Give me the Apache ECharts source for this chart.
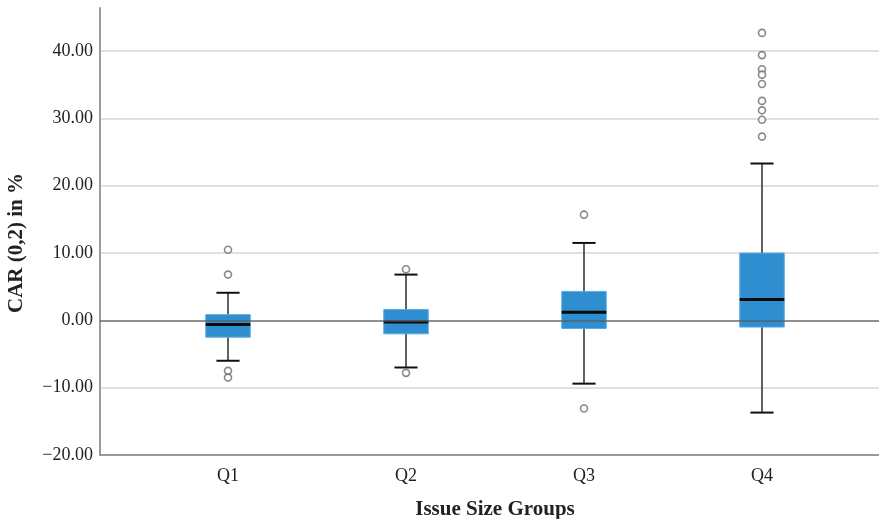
<!DOCTYPE html>
<html>
<head>
<meta charset="utf-8">
<script src="https://cdn.jsdelivr.net/npm/echarts@6/dist/echarts.min.js"></script>
<style>
  html, body { margin: 0; padding: 0; background: #fff; }
  #chart { width: 879px; height: 519px; }
</style>
</head>
<body>
<div id="chart"></div>
<script>
// Issue size quartile groups
const categories = ['Q1', 'Q2', 'Q3', 'Q4'];

// Box-and-whisker statistics of CAR (0,2) in %
const lowerWhisker = [-6.0, -7.0, -9.4, -13.7];
const lowerQuartile = [-2.5, -2.0, -1.2, -1.0];
const medians = [-0.6, -0.25, 1.2, 3.1];
const upperQuartile = [0.85, 1.6, 4.3, 10.0];
const upperWhisker = [4.1, 6.8, 11.5, 23.3];

// Outlying observations per group
const outliersQ1 = [10.5, 6.8, -7.5, -8.5];
const outliersQ2 = [7.6, -7.8];
const outliersQ3 = [15.7, -13.1];
const outliersQ4 = [42.7, 39.4, 37.3, 36.5, 35.1, 32.6, 31.2, 29.8, 27.3];

// Value axis range
const yMin = -20;
const yMax = 46.4;
const yStep = 10;

const outlierGroups = [outliersQ1, outliersQ2, outliersQ3, outliersQ4];
const boxRows = categories.map((c, i) => [i, lowerWhisker[i], lowerQuartile[i], medians[i], upperQuartile[i], upperWhisker[i]]);
const outlierPoints = [];
outlierGroups.forEach((g, i) => g.forEach(v => outlierPoints.push([i, v])));

const serif = 'Liberation Serif, Times New Roman, serif';
const fmt = v => (v < 0 ? '\u2212' + Math.abs(v).toFixed(2) : v.toFixed(2));

const chart = echarts.init(document.getElementById('chart'), null, { renderer: 'canvas' });

function renderBox(params, api) {
  const x = api.value(0);
  const band = api.size([1, 0])[0];
  const half = band * 0.125;
  const capHalf = half * 0.52;
  const pLow = api.coord([x, api.value(1)]);
  const pQ1 = api.coord([x, api.value(2)]);
  const pMed = api.coord([x, api.value(3)]);
  const pQ3 = api.coord([x, api.value(4)]);
  const pHigh = api.coord([x, api.value(5)]);
  const cx = pMed[0];
  return {
    type: 'group',
    children: [
      { type: 'line', shape: { x1: cx, y1: pHigh[1], x2: cx, y2: pLow[1] },
        style: { stroke: '#3a3a3a', lineWidth: 1.6 } },
      { type: 'line', shape: { x1: cx - capHalf, y1: pHigh[1], x2: cx + capHalf, y2: pHigh[1] },
        style: { stroke: '#111', lineWidth: 2 } },
      { type: 'line', shape: { x1: cx - capHalf, y1: pLow[1], x2: cx + capHalf, y2: pLow[1] },
        style: { stroke: '#111', lineWidth: 2 } },
      { type: 'rect', shape: { x: cx - half, y: pQ3[1], width: half * 2, height: pQ1[1] - pQ3[1] },
        style: { fill: '#2f8ed0', stroke: '#5aaae0', lineWidth: 1 } },
      { type: 'line', shape: { x1: cx - half, y1: pMed[1], x2: cx + half, y2: pMed[1] },
        style: { stroke: '#0a0a0a', lineWidth: 3 } }
    ]
  };
}

const option = {
  backgroundColor: '#fff',
  animation: false,
  grid: [
    { left: 100, right: 0, top: 8, bottom: 64, outerBoundsMode: 'none', containLabel: false },
    { left: 139, right: 28, top: 8, bottom: 64, outerBoundsMode: 'none', containLabel: false }
  ],
  xAxis: [
    {
      gridIndex: 0, type: 'value', min: 0, max: 1,
      axisLine: { show: true, onZero: false, lineStyle: { color: '#9a9a9a', width: 2 } },
      axisTick: { show: false }, axisLabel: { show: false }, splitLine: { show: false }
    },
    {
      gridIndex: 1, type: 'category', data: categories,
      axisLine: { show: false }, axisTick: { show: false },
      axisLabel: { margin: 12, fontFamily: serif, fontSize: 18, color: '#222' },
      name: 'Issue Size Groups', nameLocation: 'middle', nameGap: 44,
      nameTextStyle: { fontFamily: serif, fontSize: 21, fontWeight: 'bold', color: '#222' }
    }
  ],
  yAxis: [
    {
      gridIndex: 0, type: 'value', min: yMin, max: yMax, interval: yStep,
      axisLine: { show: true, lineStyle: { color: '#9a9a9a', width: 2 } },
      axisTick: { show: false },
      axisLabel: {
        margin: 7, fontFamily: serif, fontSize: 18, color: '#222', showMaxLabel: false,
        formatter: v => (Math.abs(v % yStep) < 1e-9 ? fmt(v) : '')
      },
      splitLine: { show: true, showMaxLine: false, lineStyle: { color: '#e0e0e0', width: 2 } }
    },
    {
      gridIndex: 1, type: 'value', min: yMin, max: yMax, interval: yStep,
      axisLine: { show: false }, axisTick: { show: false },
      axisLabel: { show: false }, splitLine: { show: false }
    }
  ],
  graphic: [
    {
      type: 'text', x: 17, y: 243, rotation: Math.PI / 2,
      style: {
        text: 'CAR (0,2) in %', font: 'bold 21px ' + serif, fill: '#222',
        align: 'center', verticalAlign: 'middle'
      }
    }
  ],
  series: [
    {
      type: 'custom', xAxisIndex: 1, yAxisIndex: 1, z: 2,
      data: boxRows,
      encode: { x: 0, y: [1, 2, 3, 4, 5] },
      renderItem: renderBox
    },
    {
      type: 'scatter', xAxisIndex: 1, yAxisIndex: 1, z: 3,
      data: outlierPoints,
      symbol: 'circle', symbolSize: 7,
      itemStyle: { color: '#fff', borderColor: '#6a6a6a', borderWidth: 1.6 }
    },
    {
      type: 'line', xAxisIndex: 0, yAxisIndex: 0, z: 4,
      data: [], symbol: 'none',
      markLine: {
        silent: true, symbol: 'none', label: { show: false },
        lineStyle: { color: 'rgba(90,90,90,0.6)', width: 2, type: 'solid' },
        data: [{ yAxis: 0 }]
      }
    }
  ]
};

chart.setOption(option);
</script>
</body>
</html>
